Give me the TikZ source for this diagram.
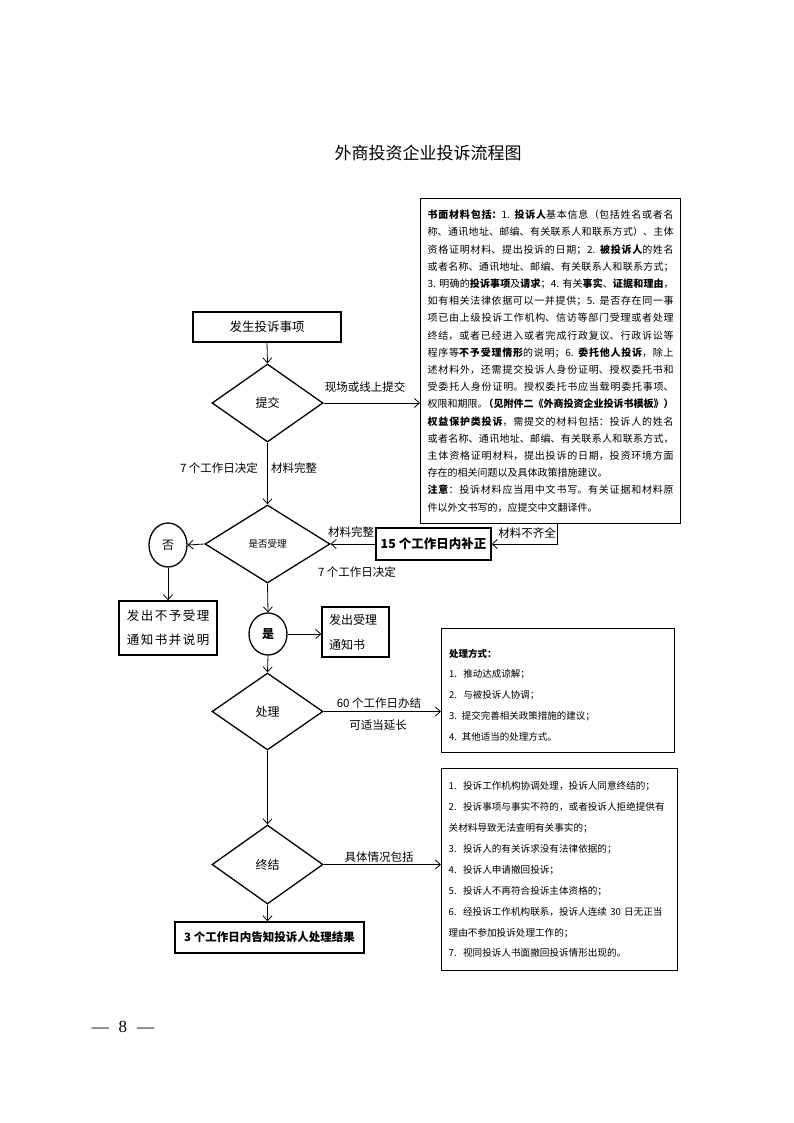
\documentclass[tikz,border=0pt]{standalone}
\usepackage{fontspec}
\setmainfont{Noto Sans CJK SC}
\newfontfamily\spacedcjk[LetterSpace=12]{Noto Sans CJK SC}
\newfontfamily\pagenumfont{Liberation Serif}
\usetikzlibrary{shapes.geometric,arrows.meta,calc}
\XeTeXlinebreaklocale "zh"
\XeTeXlinebreakskip=0pt plus 1.5pt minus 0.4pt
\newcommand\LB{\linebreak}
\begin{document}
\begin{tikzpicture}[x=1pt,y=-1pt,
  box/.style={draw, line width=1.4pt, inner sep=0pt, align=center},
  dia/.style={draw, diamond, line width=1.3pt, inner sep=0pt},
  circ/.style={draw, ellipse, line width=1.3pt, inner sep=0pt},
  arr/.style={-{Straight Barb[length=5pt,width=9pt]}, line width=0.8pt},
  lbl/.style={inner sep=0pt, font=\fontsize{11.5}{13}\selectfont},
]
\useasboundingbox[fill=white] (0,0) rectangle (794,1123);

% title
\node[font=\fontsize{17}{20}\selectfont] (title) at (428,153) {外商投资企业投诉流程图};

% big materials box
\node[box, anchor=north west, minimum width=260, minimum height=325,
      text width=246pt, align=justify, inner xsep=7pt,
      font=\fontsize{10}{17.2}\selectfont] (bigbox) at (420,198) {%
\noindent\textbf{书面材料包括：}1. \textbf{投诉人}基本信息（包括姓名或者名\LB
称、通讯地址、邮编、有关联系人和联系方式）、主体\LB
资格证明材料、提出投诉的日期；2. \textbf{被投诉人}的姓名\LB
或者名称、通讯地址、邮编、有关联系人和联系方式；\LB
3. 明确的\textbf{投诉事项}及\textbf{请求}；4. 有关\textbf{事实}、\textbf{证据和理由}，\LB
如有相关法律依据可以一并提供；5. 是否存在同一事\LB
项已由上级投诉工作机构、信访等部门受理或者处理\LB
终结，或者已经进入或者完成行政复议、行政诉讼等\LB
程序等\textbf{不予受理情形}的说明；6. \textbf{委托他人投诉}，除上\LB
述材料外，还需提交投诉人身份证明、授权委托书和\LB
受委托人身份证明。授权委托书应当载明委托事项、\LB
\hbox to \linewidth{权限和期限。\hss\textbf{（见附件二《外商投资企业投诉书模板》）}}\LB
\textbf{权益保护类投诉}，需提交的材料包括：投诉人的姓名\LB
或者名称、通讯地址、邮编、有关联系人和联系方式，\LB
主体资格证明材料，提出投诉的日期，投资环境方面\LB
存在的相关问题以及具体政策措施建议。\\
\textbf{注意}：投诉材料应当用中文书写。有关证据和材料原\LB
件以外文书写的，应提交中文翻译件。};

% main flow
\node[box, minimum width=148, minimum height=30, font=\fontsize{12.5}{14}\selectfont] (start) at (267,327) {发生投诉事项};
\node[dia, minimum width=111, minimum height=78, font=\fontsize{12}{14}\selectfont] (submit) at (267.5,403) {提交};
\node[dia, minimum width=125, minimum height=78, font=\fontsize{9.5}{11}\selectfont] (accept) at (267.5,544) {是否受理};
\node[circ, minimum width=38, minimum height=44, font=\fontsize{12}{14}\selectfont] (no) at (168,545) {否};
\node[box, minimum width=98, minimum height=54, font=\spacedcjk\fontsize{12.5}{24}\selectfont] (nobox) at (168,628) {发出不予受理\\通知书并说明};
\node[circ, minimum width=38, minimum height=42, font=\fontsize{12}{14}\selectfont\bfseries] (yes) at (268,634) {是};
\node[box, minimum width=67, minimum height=50, text width=53pt, align=left, font=\spacedcjk\fontsize{12}{25}\selectfont] (yesbox) at (355.5,632) {发出受理\\通知书};
\node[box, minimum width=115, minimum height=32, font=\fontsize{12.5}{14}\selectfont\bfseries] (fix) at (433.5,544) {15 个工作日内补正};
\node[dia, minimum width=111, minimum height=77, font=\fontsize{12}{14}\selectfont] (proc) at (267.5,711.5) {处理};
\node[dia, minimum width=111, minimum height=79, font=\fontsize{12}{14}\selectfont] (end) at (267.5,864.5) {终结};
\node[box, minimum width=189, minimum height=31, font=\fontsize{11.5}{14}\selectfont\bfseries] (result) at (269.5,937.5) {3 个工作日内告知投诉人处理结果};

% processing box
\node[box, anchor=north west, minimum width=233, minimum height=124] (procbox) at (441,628) {};
\node[anchor=west, inner sep=0pt, text width=220pt, align=left, font=\fontsize{9.5}{20.8}\selectfont] (proctext) at (449,695) {%
\textbf{处理方式：}\\
1.\ \ 推动达成谅解；\\
2.\ \ 与被投诉人协调；\\
3. 提交完善相关政策措施的建议；\\
4. 其他适当的处理方式。};

% termination box
\node[box, anchor=north west, minimum width=236, minimum height=202, text width=222pt, align=left, inner xsep=7pt,
      font=\fontsize{9.6}{20.9}\selectfont] (endbox) at (441,768) {%
1.\ \ 投诉工作机构协调处理，投诉人同意终结的；\\
2.\ \ 投诉事项与事实不符的，或者投诉人拒绝提供有\\
关材料导致无法查明有关事实的；\\
3.\ \ 投诉人的有关诉求没有法律依据的；\\
4.\ \ 投诉人申请撤回投诉；\\
5.\ \ 投诉人不再符合投诉主体资格的；\\
6.\ \ 经投诉工作机构联系，投诉人连续 30 日无正当\\
理由不参加投诉处理工作的；\\
7.\ \ 视同投诉人书面撤回投诉情形出现的。};

% labels
\node[lbl] (lsite) at (365,387) {现场或线上提交};
\node[lbl] (l7a) at (219,468) {7 个工作日决定};
\node[lbl] (lfull1) at (294,468) {材料完整};
\node[lbl] (lfull2) at (351,532) {材料完整};
\node[lbl] (l7b) at (357,572) {7 个工作日决定};
\node[lbl] (lmiss) at (527,533) {材料不齐全};
\node[lbl] (l60) at (379,703) {60 个工作日办结};
\node[lbl] (lext) at (378,725) {可适当延长};
\node[lbl] (lcase) at (379,857) {具体情况包括};

% page number
\node[inner sep=0pt, font=\pagenumfont\fontsize{17}{20}\selectfont] (pnum) at (123,1027) {—\hspace{10pt}8\hspace{10pt}—};

% connectors
\draw[arr] (start.south) -- (submit.north);
\draw[arr] (submit.east) -- (submit.east -| bigbox.west);
\draw[arr] (submit.south) -- (accept.north);
\draw[arr] (accept.west) -- (no.east);
\draw[arr] (no.south) -- (nobox.north);
\draw[arr] (accept.south) -- (yes.north);
\draw[arr] (yes.east) -- (yes.east -| yesbox.west);
\draw[arr] (yes.south) -- (proc.north);
\draw[arr] (proc.east) -- (proc.east -| procbox.west);
\draw[arr] (proc.south) -- (end.north);
\draw[arr] (end.east) -- (end.east -| endbox.west);
\draw[arr] (end.south) -- (end.south |- result.north);
\draw[arr] ([xshift=7pt]bigbox.south) |- (fix.east);
\draw[arr] (fix.west) -- (accept.east);
\end{tikzpicture}
\end{document}
